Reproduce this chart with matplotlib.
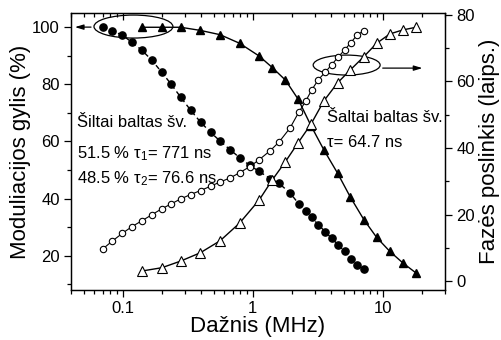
import matplotlib
matplotlib.use("Agg")
import matplotlib.pyplot as plt
from matplotlib.patches import Ellipse
from matplotlib.ticker import MultipleLocator, FixedLocator, NullFormatter

plt.rcParams['font.family'] = ['Liberation Sans', 'DejaVu Sans']
plt.rcParams['mathtext.fontset'] = 'custom'
plt.rcParams['mathtext.rm'] = 'Liberation Sans'
plt.rcParams['mathtext.it'] = 'Liberation Sans:italic'

# Warm white LED: frequency (MHz), modulation depth (%), phase shift (deg)
freq_warm = [0.070, 0.083, 0.099, 0.117, 0.140, 0.167, 0.199, 0.236, 0.279, 0.332,
             0.396, 0.473, 0.562, 0.669, 0.794, 0.948, 1.12, 1.36, 1.59, 1.93,
             2.25, 2.54, 2.83, 3.18, 3.60, 4.03, 4.51, 5.08, 5.67, 6.34, 7.14]
mod_warm = [100.1, 98.7, 97.3, 94.8, 92.0, 88.5, 84.3, 80.0, 75.5, 71.0,
            66.8, 63.2, 60.1, 57.1, 54.3, 51.6, 49.5, 47.0, 45.3, 42.0,
            38.2, 35.8, 33.4, 30.9, 28.4, 26.1, 23.9, 21.5, 19.0, 16.7, 15.4]
phase_warm = [9.6, 12.0, 14.3, 16.3, 18.1, 19.9, 21.7, 23.2, 24.7, 26.0,
              27.2, 28.5, 29.8, 31.0, 32.6, 34.4, 36.5, 39.2, 41.8, 46.0,
              50.7, 54.0, 57.4, 60.5, 62.8, 65.0, 67.3, 69.5, 71.7, 74.0, 75.3]

# Cold white LED
freq_cold = [0.140, 0.200, 0.279, 0.395, 0.560, 0.790, 1.12, 1.41, 1.78, 2.23,
             2.80, 3.52, 4.48, 5.62, 7.14, 8.95, 11.3, 14.2, 17.9]
mod_cold = [100.0, 100.0, 100.0, 98.9, 97.4, 94.4, 89.9, 85.9, 81.5, 74.8,
            65.5, 57.0, 48.9, 40.5, 32.6, 26.4, 21.5, 17.5, 14.0]
phase_cold = [3.0, 4.0, 6.0, 8.5, 12.1, 17.4, 24.4, 30.4, 35.9, 41.6,
              47.2, 54.2, 59.6, 63.5, 67.5, 71.5, 74.3, 75.5, 76.3]

fig = plt.figure(figsize=(5.02, 3.40), dpi=100)
ax = fig.add_axes([0.1414, 0.1471, 0.7451, 0.8147])
ax2 = ax.twinx()

# Modulation depth (left axis)
ax.plot(freq_warm, mod_warm, color='black', lw=1.0, ls=(0, (3.5, 2.5)),
        marker='o', ms=5.2, mfc='black', mec='black')
ax.plot(freq_cold, mod_cold, color='black', lw=1.0, ls='-',
        marker='^', ms=6, mfc='black', mec='black')

# Phase shift (right axis)
ax2.plot(freq_warm, phase_warm, color='black', lw=0.8, ls='-',
         marker='o', ms=4.6, mfc='white', mec='black', mew=0.8)
ax2.plot(freq_cold, phase_cold, color='black', lw=1.0, ls='-',
         marker='^', ms=6.5, mfc='white', mec='black', mew=0.8)

ax.set_xscale('log')
ax.set_xlim(0.04, 30)
ax.set_ylim(8.0, 105)
ax2.set_ylim(-2.7, 80.6)

ax.set_xticks([0.1, 1, 10])
ax.set_xticklabels(['0.1', '1', '10'])
ax.xaxis.set_minor_formatter(NullFormatter())
ax.yaxis.set_major_locator(FixedLocator([20, 40, 60, 80, 100]))
ax.yaxis.set_minor_locator(MultipleLocator(10))
ax2.yaxis.set_major_locator(FixedLocator([0, 20, 40, 60, 80]))
ax2.yaxis.set_minor_locator(MultipleLocator(10))

ax.tick_params(axis='x', which='both', direction='out', top=True, labeltop=False,
               labelsize=12, width=0.9, pad=3)
ax.tick_params(axis='x', which='major', length=5)
ax.tick_params(axis='x', which='minor', length=3)
ax.tick_params(axis='y', which='both', direction='out', right=False, labelsize=12,
               width=0.9, pad=3)
ax.tick_params(axis='y', which='major', length=5)
ax.tick_params(axis='y', which='minor', length=3)
ax2.tick_params(axis='y', which='both', direction='out', labelsize=12, width=0.9, pad=3)
ax2.tick_params(axis='y', which='major', length=5)
ax2.tick_params(axis='y', which='minor', length=3)

# Top axis ticks point inward
for t in ax.xaxis.get_major_ticks() + ax.xaxis.get_minor_ticks():
    t.tick2line.set_marker(matplotlib.lines.TICKDOWN)

for a in (ax, ax2):
    for s in a.spines.values():
        s.set_linewidth(0.9)

ax.set_xlabel('Dažnis (MHz)', fontsize=16, labelpad=0)
ax.set_ylabel('Moduliacijos gylis (%)', fontsize=16, labelpad=1)
ax2.set_ylabel('Fazės poslinkis (laips.)', fontsize=16, labelpad=3)

ax.text(0.016, 0.604, 'Šiltai baltas šv.', transform=ax.transAxes,
        fontsize=12, va='center', ha='left')
ax.text(0.016, 0.491, '51.5 % τ$_{\\mathrm{1}}$= 771 ns', transform=ax.transAxes,
        fontsize=12, va='center', ha='left')
ax.text(0.016, 0.401, '48.5 % τ$_{\\mathrm{2}}$= 76.6 ns', transform=ax.transAxes,
        fontsize=12, va='center', ha='left')
ax.text(0.685, 0.621, 'Šaltai baltas šv.', transform=ax.transAxes,
        fontsize=12, va='center', ha='left')
ax.text(0.685, 0.534, 'τ= 64.7 ns', transform=ax.transAxes,
        fontsize=12, va='center', ha='left')

# Ellipses marking which curves belong to which axis, with arrows
ax.add_patch(Ellipse((0.167, 0.951), 0.211, 0.083, transform=ax.transAxes,
                     fill=False, ec='black', lw=0.9, zorder=5))
ax.annotate('', xy=(0.003, 0.949), xytext=(0.061, 0.949),
            xycoords='axes fraction', textcoords='axes fraction',
            arrowprops=dict(arrowstyle='-|>,head_length=0.5,head_width=0.15',
                            color='black', lw=0.9))
ax.add_patch(Ellipse((0.737, 0.812), 0.179, 0.072, transform=ax.transAxes,
                     fill=False, ec='black', lw=0.9, zorder=5))
ax.annotate('', xy=(0.947, 0.801), xytext=(0.826, 0.801),
            xycoords='axes fraction', textcoords='axes fraction',
            arrowprops=dict(arrowstyle='-|>,head_length=0.5,head_width=0.15',
                            color='black', lw=0.9))

fig.savefig('out.png', dpi=100)
